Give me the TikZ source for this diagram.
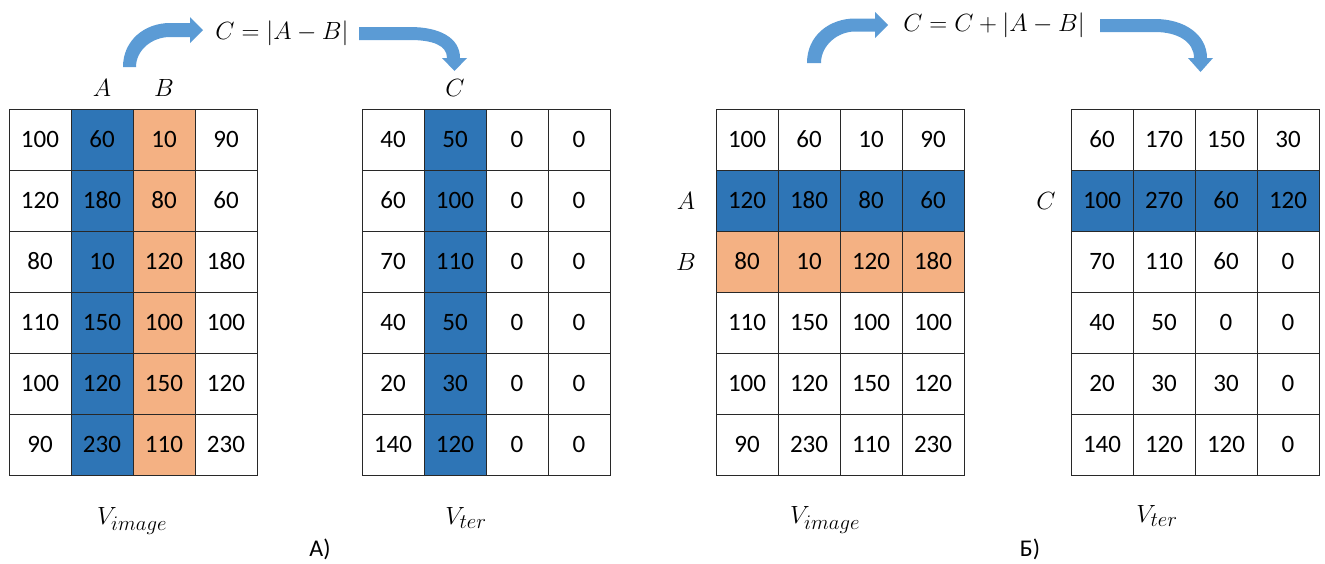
\documentclass[tikz,border=0pt]{standalone}
\usepackage[no-math]{fontspec}
\setmainfont{Carlito}
\DeclareMathSizes{26}{26}{19.5}{15}
\definecolor{cellblue}{RGB}{46,117,182}
\definecolor{cellorange}{RGB}{244,177,131}
\definecolor{arrowblue}{RGB}{91,155,213}
\definecolor{gridline}{RGB}{40,40,40}
\tikzset{
  cell/.style={draw=gridline, line width=0.9pt, minimum width=62pt, minimum height=61pt,
    inner sep=0pt, font=\fontsize{25}{30}\selectfont},
  mlab/.style={inner sep=0pt, font=\fontsize{23}{28}\selectfont},
  vlab/.style={inner sep=0pt, font=\fontsize{26}{30}\selectfont},
  caption/.style={inner sep=0pt, font=\fontsize{24}{28}\selectfont},
  blockarrow/.style={fill=arrowblue, draw=none}
}
\begin{document}
\begin{tikzpicture}[x=1pt,y=-1pt]
\useasboundingbox (0,0) rectangle (1325,563);

% ---------- panel A: column-wise difference ----------
\foreach \r/\va/\vb/\vc/\vd in {1/100/60/10/90, 2/120/180/80/60, 3/80/10/120/180,
    4/110/150/100/100, 5/100/120/150/120, 6/90/230/110/230} {
  \node[cell] (ia-\r-1) at (40,{78.5+61*\r}) {\va};
  \node[cell, fill=cellblue] (ia-\r-2) at (102,{78.5+61*\r}) {\vb};
  \node[cell, fill=cellorange] (ia-\r-3) at (164,{78.5+61*\r}) {\vc};
  \node[cell] (ia-\r-4) at (226,{78.5+61*\r}) {\vd};
}
\foreach \r/\va/\vb/\vc/\vd in {1/40/50/0/0, 2/60/100/0/0, 3/70/110/0/0,
    4/40/50/0/0, 5/20/30/0/0, 6/140/120/0/0} {
  \node[cell] (ta-\r-1) at (393,{78.5+61*\r}) {\va};
  \node[cell, fill=cellblue] (ta-\r-2) at (455,{78.5+61*\r}) {\vb};
  \node[cell] (ta-\r-3) at (517,{78.5+61*\r}) {\vc};
  \node[cell] (ta-\r-4) at (579,{78.5+61*\r}) {\vd};
}
\node[mlab] (labA1) at (102,88) {$A$};
\node[mlab] (labB1) at (164,88) {$B$};
\node[mlab] (labC1) at (455,88) {$C$};
\node[mlab] (formA) at (282,33) {$C=|A-B|$};
\node[vlab] (vimgA) at (132,521) {$V_{image}$};
\node[vlab] (vterA) at (466,518) {$V_{ter}$};
\node[caption] (capA) at (320,549) {А)};

% curved block arrows of panel A
\fill[blockarrow] (123,67) .. controls (123,40) and (145,23) .. (170,23) -- (190,23)
  -- (190,17) -- (203,30) -- (190,43) -- (190,37) -- (170,37)
  .. controls (152,37) and (136,50) .. (136,67) -- cycle;
\fill[blockarrow] (359,27) -- (410,27) .. controls (440,27) and (460,38) .. (460,58)
  -- (467,58) -- (454.5,71) -- (442,58) -- (447,58)
  .. controls (447,45) and (432,40) .. (410,40) -- (359,40) -- cycle;

% ---------- panel B: row-wise accumulation ----------
\foreach \r/\f/\va/\vb/\vc/\vd in {1/white/100/60/10/90, 2/cellblue/120/180/80/60,
    3/cellorange/80/10/120/180, 4/white/110/150/100/100, 5/white/100/120/150/120,
    6/white/90/230/110/230} {
  \node[cell, fill=\f] (ib-\r-1) at (747,{78.5+61*\r}) {\va};
  \node[cell, fill=\f] (ib-\r-2) at (809,{78.5+61*\r}) {\vb};
  \node[cell, fill=\f] (ib-\r-3) at (871,{78.5+61*\r}) {\vc};
  \node[cell, fill=\f] (ib-\r-4) at (933,{78.5+61*\r}) {\vd};
}
\foreach \r/\f/\va/\vb/\vc/\vd in {1/white/60/170/150/30, 2/cellblue/100/270/60/120,
    3/white/70/110/60/0, 4/white/40/50/0/0, 5/white/20/30/30/0,
    6/white/140/120/120/0} {
  \node[cell, fill=\f] (tb-\r-1) at (1102,{78.5+61*\r}) {\va};
  \node[cell, fill=\f] (tb-\r-2) at (1164,{78.5+61*\r}) {\vb};
  \node[cell, fill=\f] (tb-\r-3) at (1226,{78.5+61*\r}) {\vc};
  \node[cell, fill=\f] (tb-\r-4) at (1288,{78.5+61*\r}) {\vd};
}
\node[mlab] (labA2) at (686,201) {$A$};
\node[mlab] (labB2) at (686,262) {$B$};
\node[mlab] (labC2) at (1046,201) {$C$};
\node[mlab] (formB) at (994,25) {$C=C+|A-B|$};
\node[vlab] (vimgB) at (825,520) {$V_{image}$};
\node[vlab] (vterB) at (1157,516) {$V_{ter}$};
\node[caption] (capB) at (1030,549) {Б)};

% curved block arrows of panel B
\fill[blockarrow] (807,63) .. controls (807,35) and (830,18.5) .. (855,18.5) -- (875,18.5)
  -- (875,12) -- (888,25) -- (875,38) -- (875,31.5) -- (855,31.5)
  .. controls (838,31.5) and (821,45) .. (821,63) -- cycle;
\fill[blockarrow] (1100,19) -- (1155,19) .. controls (1185,19) and (1207,35) .. (1207,58)
  -- (1213,58) -- (1200.5,72) -- (1188,58) -- (1194,58)
  .. controls (1194,42) and (1178,32) .. (1155,32) -- (1100,32) -- cycle;
\end{tikzpicture}
\end{document}
